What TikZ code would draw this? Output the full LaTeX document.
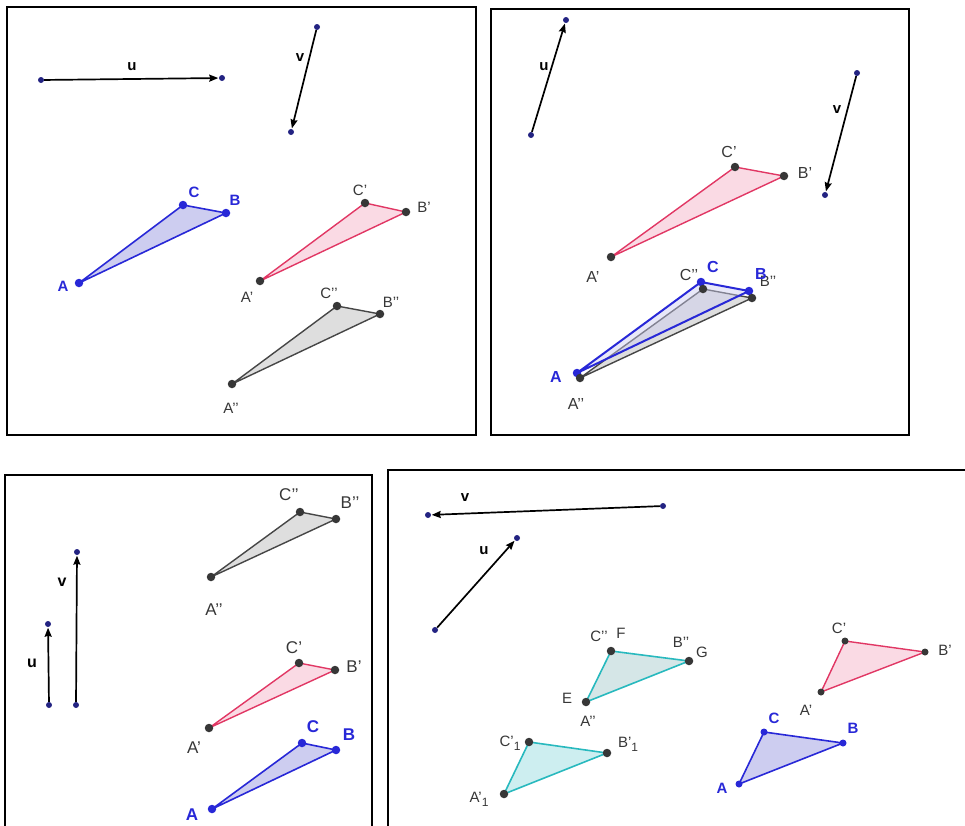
\documentclass[tikz,border=0pt]{standalone}
\usepackage{fontspec}
\setmainfont{Liberation Sans}
\usetikzlibrary{arrows.meta}
\definecolor{navy}{RGB}{35,35,130}
\definecolor{tblue}{RGB}{40,40,215}
\definecolor{bfill}{RGB}{205,205,240}
\definecolor{pline}{RGB}{225,55,100}
\definecolor{pfill}{RGB}{250,218,228}
\definecolor{gline}{RGB}{70,70,70}
\definecolor{gfill}{RGB}{222,222,222}
\definecolor{dgray}{RGB}{55,55,55}
\definecolor{cline}{RGB}{40,185,190}
\definecolor{cfill}{RGB}{205,238,240}
\newcommand\pq{\char"27\relax}
\newcommand\sbone{\raisebox{-4pt}{\fontsize{12}{12}\selectfont 1}}
\begin{document}
\begin{tikzpicture}[x=1pt,y=-1pt,
  frame/.style={line width=1.6pt},
  vec/.style={line width=1.7pt,-{Stealth[length=9pt,width=7pt,inset=1pt]},shorten >=0.5pt},
  vdot/.style={circle,fill=navy,inner sep=0pt,minimum size=6pt},
  bdot/.style={circle,fill=tblue,inner sep=0pt,minimum size=8.5pt},
  gdot/.style={circle,fill=dgray,inner sep=0pt,minimum size=8.5pt},
  lab/.style={font=\fontsize{15}{15}\selectfont,text=dgray,inner sep=0pt},
  blab/.style={font=\fontsize{15}{15}\selectfont\bfseries,text=tblue,inner sep=0pt},
  vlab/.style={font=\fontsize{15}{15}\selectfont\bfseries,text=black,inner sep=0pt},
  btri/.style={draw=tblue,fill=bfill,line width=1.6pt,line join=round},
  ptri/.style={draw=pline,fill=pfill,line width=1.4pt,line join=round},
  gtri/.style={draw=gline,fill=gfill,line width=1.4pt,line join=round},
  ctri/.style={draw=cline,fill=cfill,line width=1.6pt,line join=round}]
\useasboundingbox (0,0) rectangle (965,825);

% ---------------- frames
\draw[frame] (7,7) rectangle (476,435);
\draw[frame] (491,9) rectangle (909,435);
\draw[frame] (5,830) -- (5,475) -- (372,475) -- (372,830);
\draw[frame] (388,830) -- (388,470) -- (970,470);

% ================= Panel 1
\node[vdot] (p1us) at (41,80) {};
\node[vdot] (p1ue) at (222,78) {};
\draw[vec] (p1us) -- (p1ue);
\node[vlab] (p1ul) at (132,67) {u};
\node[vdot] (p1vs) at (317,27) {};
\node[vdot] (p1ve) at (291,132) {};
\draw[vec] (p1vs) -- (p1ve);
\node[vlab] (p1vl) at (300,58) {v};

\coordinate (p1A) at (79,283); \coordinate (p1C) at (183,205); \coordinate (p1B) at (226,213);
\draw[btri] (p1A) -- (p1B) -- (p1C) -- cycle;
\coordinate (p1Ap) at (260,281); \coordinate (p1Cp) at (365,203); \coordinate (p1Bp) at (406,212);
\draw[ptri] (p1Ap) -- (p1Bp) -- (p1Cp) -- cycle;
\coordinate (p1App) at (232,384); \coordinate (p1Cpp) at (337,306); \coordinate (p1Bpp) at (380,314);
\draw[gtri] (p1App) -- (p1Bpp) -- (p1Cpp) -- cycle;
\node[bdot] (p1Ad) at (p1A) {}; \node[bdot] (p1Cd) at (p1C) {}; \node[bdot] (p1Bd) at (p1B) {};
\node[gdot] (p1Apd) at (p1Ap) {}; \node[gdot] (p1Cpd) at (p1Cp) {}; \node[gdot] (p1Bpd) at (p1Bp) {};
\node[gdot] (p1Appd) at (p1App) {}; \node[gdot] (p1Cppd) at (p1Cpp) {}; \node[gdot] (p1Bppd) at (p1Bpp) {};
\node[blab] (p1Al) at (63,286) {A};
\node[blab] (p1Cl) at (194,192) {C};
\node[blab] (p1Bl) at (235,200) {B};
\node[lab] (p1Apl) at (247,297) {A\pq};
\node[lab] (p1Cpl) at (360,190) {C\pq};
\node[lab] (p1Bpl) at (424,207) {B\pq};
\node[lab] (p1Appl) at (231,408) {A\pq\pq};
\node[lab] (p1Cppl) at (329,293) {C\pq\pq};
\node[lab] (p1Bppl) at (391,302) {B\pq\pq};

% ================= Panel 2
\node[vdot] (p2us) at (531,135) {};
\node[vdot] (p2ue) at (566,20) {};
\draw[vec] (p2us) -- (p2ue);
\node[vlab] (p2ul) at (544,67) {u};
\node[vdot] (p2vs) at (857,73) {};
\node[vdot] (p2ve) at (825,195) {};
\draw[vec] (p2vs) -- (p2ve);
\node[vlab] (p2vl) at (837,110) {v};

\coordinate (p2Ap) at (611,257); \coordinate (p2Cp) at (735,167); \coordinate (p2Bp) at (784,176);
\draw[ptri] (p2Ap) -- (p2Bp) -- (p2Cp) -- cycle;
\coordinate (p2App) at (580,378); \coordinate (p2Cpp) at (703,289); \coordinate (p2Bpp) at (752,298);
\draw[gtri] (p2App) -- (p2Bpp) -- (p2Cpp) -- cycle;
\coordinate (p2A) at (577,373); \coordinate (p2C) at (701,282); \coordinate (p2B) at (749,291);
\draw[btri,fill opacity=0.45,line width=2pt] (p2A) -- (p2B) -- (p2C) -- cycle;
\node[gdot] (p2Apd) at (p2Ap) {}; \node[gdot] (p2Cpd) at (p2Cp) {}; \node[gdot] (p2Bpd) at (p2Bp) {};
\node[bdot] (p2Ad) at (p2A) {}; \node[bdot] (p2Cd) at (p2C) {}; \node[bdot] (p2Bd) at (p2B) {};
\node[gdot] (p2Appd) at (p2App) {}; \node[gdot] (p2Cppd) at (p2Cpp) {}; \node[gdot] (p2Bppd) at (p2Bpp) {};
\node[lab,font=\fontsize{16}{16}\selectfont] (p2Apl) at (593,277) {A\pq};
\node[lab,font=\fontsize{16}{16}\selectfont] (p2Cpl) at (729,152) {C\pq};
\node[lab,font=\fontsize{16}{16}\selectfont] (p2Bpl) at (805,173) {B\pq};
\node[blab,font=\fontsize{16}{16}\selectfont\bfseries] (p2Al) at (556,377) {A};
\node[lab,font=\fontsize{16}{16}\selectfont] (p2Appl) at (576,404) {A\pq\pq};
\node[lab,font=\fontsize{16}{16}\selectfont] (p2Cppl) at (689,275) {C\pq\pq};
\node[blab,font=\fontsize{16}{16}\selectfont\bfseries] (p2Cl) at (713,267) {C};
\node[lab,font=\fontsize{15}{15}\selectfont] (p2Bppl) at (768,281) {B\pq\pq};
\node[blab,font=\fontsize{16}{16}\selectfont\bfseries] (p2Bl) at (761,274) {B};

% ================= Panel 3
\node[vdot] (p3vs) at (76,705) {};
\node[vdot] (p3ve) at (77,552) {};
\draw[vec] (p3vs) -- (p3ve);
\node[vlab,font=\fontsize{16}{16}\selectfont\bfseries] (p3vl) at (62,582) {v};
\node[vdot] (p3us) at (49,705) {};
\node[vdot] (p3ue) at (48,624) {};
\draw[vec] (p3us) -- (p3ue);
\node[vlab,font=\fontsize{16}{16}\selectfont\bfseries] (p3ul) at (32,663) {u};

\coordinate (p3App) at (211,577); \coordinate (p3Cpp) at (300,512); \coordinate (p3Bpp) at (336,519);
\draw[gtri] (p3App) -- (p3Bpp) -- (p3Cpp) -- cycle;
\coordinate (p3Ap) at (209,728); \coordinate (p3Cp) at (299,663); \coordinate (p3Bp) at (335,670);
\draw[ptri] (p3Ap) -- (p3Bp) -- (p3Cp) -- cycle;
\coordinate (p3A) at (212,809); \coordinate (p3C) at (302,743); \coordinate (p3B) at (336,750);
\draw[btri] (p3A) -- (p3B) -- (p3C) -- cycle;
\node[gdot] (p3Appd) at (p3App) {}; \node[gdot] (p3Cppd) at (p3Cpp) {}; \node[gdot] (p3Bppd) at (p3Bpp) {};
\node[gdot] (p3Apd) at (p3Ap) {}; \node[gdot] (p3Cpd) at (p3Cp) {}; \node[gdot] (p3Bpd) at (p3Bp) {};
\node[bdot] (p3Ad) at (p3A) {}; \node[bdot] (p3Cd) at (p3C) {}; \node[bdot] (p3Bd) at (p3B) {};
\node[lab,font=\fontsize{17}{17}\selectfont] (p3Appl) at (214,610) {A\pq\pq};
\node[lab,font=\fontsize{17}{17}\selectfont] (p3Cppl) at (289,495) {C\pq\pq};
\node[lab,font=\fontsize{17}{17}\selectfont] (p3Bppl) at (350,503) {B\pq\pq};
\node[lab,font=\fontsize{17}{17}\selectfont] (p3Apl) at (194,748) {A\pq};
\node[lab,font=\fontsize{17}{17}\selectfont] (p3Cpl) at (294,648) {C\pq};
\node[lab,font=\fontsize{17}{17}\selectfont] (p3Bpl) at (354,667) {B\pq};
\node[blab,font=\fontsize{17}{17}\selectfont\bfseries] (p3Al) at (192,815) {A};
\node[blab,font=\fontsize{17}{17}\selectfont\bfseries] (p3Cl) at (313,727) {C};
\node[blab,font=\fontsize{17}{17}\selectfont\bfseries] (p3Bl) at (349,735) {B};

% ================= Panel 4
\node[vdot] (p4vs) at (663,506) {};
\node[vdot] (p4ve) at (428,515) {};
\draw[vec] (p4vs) -- (p4ve);
\node[vlab] (p4vl) at (465,498) {v};
\node[vdot] (p4us) at (435,630) {};
\node[vdot] (p4ue) at (517,538) {};
\draw[vec] (p4us) -- (p4ue);
\node[vlab] (p4ul) at (484,551) {u};

\coordinate (p4E) at (586,702); \coordinate (p4F) at (611,651); \coordinate (p4G) at (689,661);
\draw[gtri,draw=none] (p4E) -- (p4G) -- (p4F) -- cycle;
\draw[ctri,fill opacity=0.5] (p4E) -- (p4G) -- (p4F) -- cycle;
\coordinate (p4A1) at (504,794); \coordinate (p4C1) at (529,742); \coordinate (p4B1) at (607,753);
\draw[ctri] (p4A1) -- (p4B1) -- (p4C1) -- cycle;
\coordinate (p4Ap) at (821,692); \coordinate (p4Cp) at (845,641); \coordinate (p4Bp) at (925,652);
\draw[ptri] (p4Ap) -- (p4Bp) -- (p4Cp) -- cycle;
\coordinate (p4A) at (739,784); \coordinate (p4C) at (764,732); \coordinate (p4B) at (843,743);
\draw[btri] (p4A) -- (p4B) -- (p4C) -- cycle;
\node[gdot] (p4Ed) at (p4E) {}; \node[gdot] (p4Fd) at (p4F) {}; \node[gdot] (p4Gd) at (p4G) {};
\node[gdot] (p4A1d) at (p4A1) {}; \node[gdot] (p4C1d) at (p4C1) {}; \node[gdot] (p4B1d) at (p4B1) {};
\node[gdot,minimum size=7pt] (p4Apd) at (p4Ap) {}; \node[gdot,minimum size=7pt] (p4Cpd) at (p4Cp) {}; \node[gdot,minimum size=7pt] (p4Bpd) at (p4Bp) {};
\node[bdot,minimum size=7pt] (p4Ad) at (p4A) {}; \node[bdot,minimum size=7pt] (p4Cd) at (p4C) {}; \node[bdot,minimum size=7pt] (p4Bd) at (p4B) {};
\node[lab] (p4El) at (567,698) {E};
\node[lab] (p4Appl) at (588,721) {A\pq\pq};
\node[lab] (p4Cppl) at (599,636) {C\pq\pq};
\node[lab] (p4Fl) at (621,633) {F};
\node[lab] (p4Bppl) at (681,642) {B\pq\pq};
\node[lab] (p4Gl) at (702,652) {G};
\node[lab] (p4A1l) at (479,799) {A\pq\sbone};
\node[lab] (p4C1l) at (510,743) {C\pq\sbone};
\node[lab] (p4B1l) at (628,744) {B\pq\sbone};
\node[lab] (p4Apl) at (806,710) {A\pq};
\node[lab] (p4Cpl) at (839,628) {C\pq};
\node[lab] (p4Bpl) at (945,650) {B\pq};
\node[blab] (p4Al) at (722,788) {A};
\node[blab] (p4Cl) at (774,718) {C};
\node[blab] (p4Bl) at (853,728) {B};
\end{tikzpicture}
\end{document}
